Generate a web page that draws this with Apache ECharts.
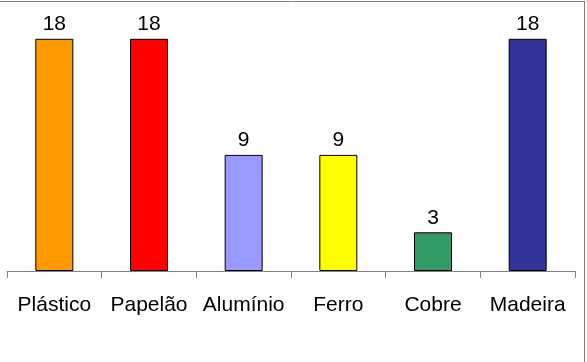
<!DOCTYPE html>
<html><head><meta charset="utf-8">
<script src="https://cdn.jsdelivr.net/npm/echarts@6/dist/echarts.min.js"></script>
<style>html,body{margin:0;padding:0;background:#fff}#c{width:587px;height:362px}</style>
</head><body><div id="c"></div>
<script>
const categories = ['Plástico','Papelão','Alumínio','Ferro','Cobre','Madeira'];
const values = [18, 18, 9, 9, 3, 18];
const colors = ['#FF9900','#FF0000','#9999FF','#FFFF00','#339966','#333399'];

const chart = echarts.init(document.getElementById('c'));
chart.setOption({
  animation: false,
  backgroundColor: '#fff',
  grid: {left: 7, width: 568, top: 13, height: 258},
  xAxis: {
    type: 'category', data: categories,
    axisLine: {show: true, lineStyle: {color: '#808080', width: 1}},
    axisTick: {show: true, alignWithLabel: false, interval: 0, length: 7, lineStyle: {color: '#808080', width: 1}},
    axisLabel: {color: '#000', fontFamily: 'Liberation Sans', fontSize: 21, margin: 24, interval: 0}
  },
  yAxis: {type: 'value', min: 0, max: 20, show: false, splitLine: {show: false}},
  series: [{
    type: 'bar', barWidth: 38,
    data: values.map((v, i) => ({value: v, itemStyle: {color: colors[i]}})),
    itemStyle: {borderColor: '#000', borderWidth: 1},
    label: {show: true, position: 'top', distance: 4, color: '#000', fontFamily: 'Liberation Sans', fontSize: 21}
  }],
  graphic: [
    {type: 'line', shape: {x1: 0, y1: 1.5, x2: 585, y2: 1.5}, style: {stroke: '#808080', lineWidth: 1}},
    {type: 'line', shape: {x1: 584.5, y1: 1, x2: 584.5, y2: 362}, style: {stroke: '#808080', lineWidth: 1}}
  ]
});
</script></body></html>
